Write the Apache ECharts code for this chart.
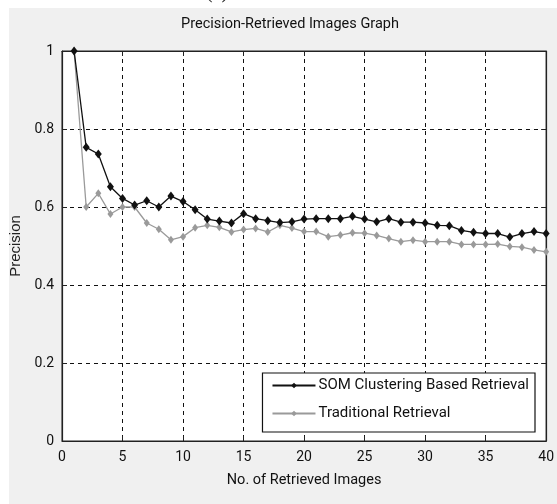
<!DOCTYPE html>
<html><head><meta charset="utf-8">
<script src="https://cdn.jsdelivr.net/npm/echarts@6/dist/echarts.min.js"></script>
<style>html,body{margin:0;padding:0;background:#fff}#c{width:557px;height:504px}</style>
</head><body><div id="c"></div>
<script>
const titleText = 'Precision-Retrieved Images Graph';
const xName = 'No. of Retrieved Images';
const yName = 'Precision';
const seriesNames = ['SOM Clustering Based Retrieval', 'Traditional Retrieval'];
const xValues = [1,2,3,4,5,6,7,8,9,10,11,12,13,14,15,16,17,18,19,20,21,22,23,24,25,26,27,28,29,30,31,32,33,34,35,36,37,38,39,40];
const somValues = [1.0,0.753,0.736,0.652,0.622,0.605,0.616,0.600,0.628,0.614,0.593,0.569,0.564,0.559,0.583,0.570,0.565,0.560,0.562,0.569,0.570,0.570,0.570,0.576,0.569,0.562,0.570,0.561,0.561,0.559,0.553,0.552,0.540,0.535,0.532,0.532,0.523,0.532,0.537,0.532];
const tradValues = [1.0,0.600,0.635,0.582,0.600,0.600,0.559,0.543,0.516,0.524,0.547,0.553,0.548,0.536,0.542,0.545,0.536,0.553,0.546,0.537,0.537,0.524,0.528,0.534,0.533,0.527,0.519,0.511,0.515,0.511,0.511,0.511,0.504,0.504,0.504,0.505,0.499,0.497,0.490,0.485];

const FONT = "Roboto, 'DejaVu Sans Condensed', sans-serif";
const chart = echarts.init(document.getElementById('c'), null, {renderer:'canvas'});
const pair = (xs, ys) => xs.map((x,i)=>[x, ys[i]]);
const axisCommon = {
  axisLine:{show:true, onZero:false, lineStyle:{color:'#222', width:1.2}},
  axisTick:{show:true, inside:true, length:5, lineStyle:{color:'#222'}},
};
chart.setOption({
  backgroundColor:'#ffffff',
  animation:false,
  graphic:[
    {type:'rect', left:9, top:8, shape:{width:548, height:496}, style:{fill:'#f0f0f0'}, z:-10},
    {type:'text', left:206, top:-17, style:{text:'(c)', font:"20px 'Liberation Serif',serif", fill:'#222'}, z:-5}
  ],
  title:{text:titleText, left:285, textAlign:'center', top:12,
    textStyle:{fontFamily:FONT, fontSize:14.5, fontWeight:'normal', color:'#111'}},
  grid:{left:62, right:10, top:51, bottom:63, show:true, backgroundColor:'#fff', borderColor:'#222', borderWidth:1},
  xAxis:[{
    type:'value', min:0, max:40, interval:5, position:'bottom',
    name:xName, nameLocation:'middle', nameGap:32,
    nameTextStyle:{fontFamily:FONT, fontSize:14.5, color:'#111'},
    axisLabel:{fontFamily:FONT, fontSize:14, color:'#111', margin:9},
    splitLine:{show:true, lineStyle:{color:'#111', type:[4,4], width:1}},
    ...axisCommon
  },{
    type:'value', min:0, max:40, interval:5, position:'top',
    axisLabel:{show:false}, splitLine:{show:false}, ...axisCommon
  }],
  yAxis:[{
    type:'value', min:0, max:1, interval:0.2, position:'left',
    name:yName, nameLocation:'middle', nameGap:37, nameRotate:90,
    nameTextStyle:{fontFamily:"'Liberation Sans',sans-serif", fontSize:15, color:'#222'},
    axisLabel:{fontFamily:FONT, fontSize:14, color:'#111', margin:8, formatter:v=>String(Math.round(v*10)/10)},
    splitLine:{show:true, lineStyle:{color:'#111', type:[4,4], width:1}},
    ...axisCommon
  },{
    type:'value', min:0, max:1, interval:0.2, position:'right',
    axisLabel:{show:false}, splitLine:{show:false}, ...axisCommon
  }],
  legend:{
    orient:'vertical', right:22, bottom:72,
    backgroundColor:'#fff', borderColor:'#111', borderWidth:1.2, borderRadius:0,
    padding:[5,6,11,9], itemGap:13, itemWidth:43, itemHeight:7,
    textStyle:{fontFamily:FONT, fontSize:15, color:'#111', padding:[0,0,0,-2]},
    data:seriesNames
  },
  series:[
    {name:seriesNames[0], type:'line', data:pair(xValues, somValues),
      symbol:'diamond', symbolSize:[7,9], showAllSymbol:true,
      lineStyle:{color:'#111', width:1.3}, itemStyle:{color:'#111'}, z:3},
    {name:seriesNames[1], type:'line', data:pair(xValues, tradValues),
      symbol:'diamond', symbolSize:[6,8], showAllSymbol:true,
      lineStyle:{color:'#9a9a9a', width:1.3}, itemStyle:{color:'#9a9a9a'}, z:2}
  ]
});
</script></body></html>
